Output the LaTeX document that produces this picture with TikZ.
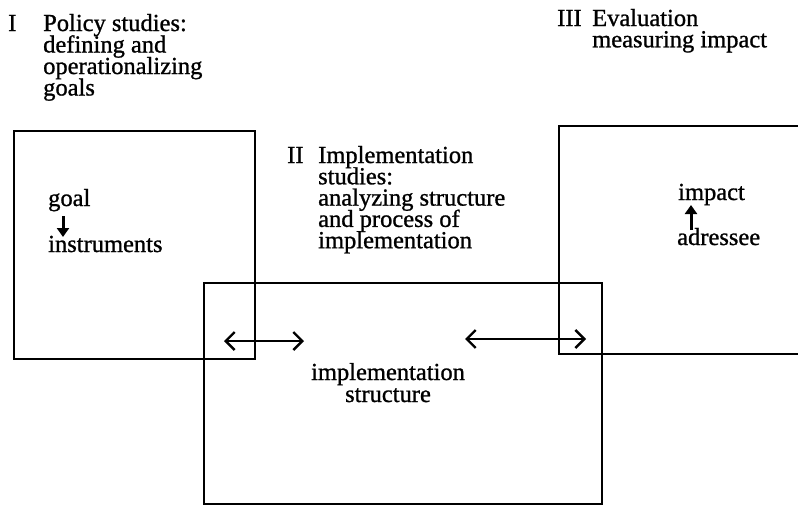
\documentclass[tikz,border=0pt]{standalone}
\usepackage{fontspec}
\setmainfont{Liberation Serif}[FakeBold=1]
\usetikzlibrary{arrows.meta}
\newcommand\leftlines[2]{\vtop{\baselineskip=#1\lineskiplimit=-100pt\halign{##\hfil\cr#2\crcr}}}
\newcommand\centerlines[2]{\vtop{\baselineskip=#1\lineskiplimit=-100pt\halign{\hfil##\hfil\cr#2\crcr}}}
\begin{document}
\begin{tikzpicture}[x=1pt,y=-1pt,
  lbl/.style={anchor=base west,inner sep=0pt,font=\fontsize{24.5}{21.5}\selectfont},
  clbl/.style={anchor=base,inner sep=0pt,font=\fontsize{24.5}{21.5}\selectfont},
  frame/.style={draw,line width=2.2pt,anchor=north west,inner sep=0pt},
  dbl/.style={line width=2.4pt,{Straight Barb[length=9pt,width=18pt,line width=2.4pt]}-{Straight Barb[length=9pt,width=18pt,line width=2.4pt]}},
  small/.style={line width=3pt,-{Triangle[length=9pt,width=12pt]}}]
\useasboundingbox (0,0) rectangle (798,506);
% frames
\node[frame,minimum width=241pt,minimum height=228pt] (boxI) at (12.5,130) {};
\node[frame,minimum width=398pt,minimum height=221pt] (boxII) at (203,282) {};
\node[frame,minimum width=240pt,minimum height=228pt] (boxIII) at (558,125) {};
% headings
\node[lbl] (numI) at (8,31) {I};
\node[lbl] (headI) at (43,31) {\leftlines{21.5pt}{Policy studies:\cr defining and\cr operationalizing\cr goals}};
\node[lbl] (numII) at (287,163) {II};
\node[lbl] (headII) at (318,163) {\leftlines{21.3pt}{Implementation\cr studies:\cr analyzing structure\cr and process of\cr implementation}};
\node[lbl] (numIII) at (557,26) {III};
\node[lbl] (headIII) at (592,26) {\leftlines{21.3pt}{Evaluation\cr measuring impact}};
% inner labels
\node[lbl] (goal) at (48,206) {goal};
\node[lbl] (instr) at (48,252) {instruments};
\node[lbl] (impact) at (678,200) {impact};
\node[lbl] (addr) at (677,245) {adressee};
\node[clbl] (struct) at (388,380) {\centerlines{22pt}{implementation\cr structure}};
% arrows
\coordinate (g1) at (63,216);
\coordinate (g2) at (63,237);
\draw[small] (g1) -- (g2);
\coordinate (a1) at (691,230);
\coordinate (a2) at (691,205);
\draw[small] (a1) -- (a2);
\coordinate (la1) at (224,341);
\coordinate (la2) at (304,341);
\draw[dbl] (la1) -- (la2);
\coordinate (ra1) at (465,339);
\coordinate (ra2) at (586,339);
\draw[dbl] (ra1) -- (ra2);
\end{tikzpicture}
\end{document}
